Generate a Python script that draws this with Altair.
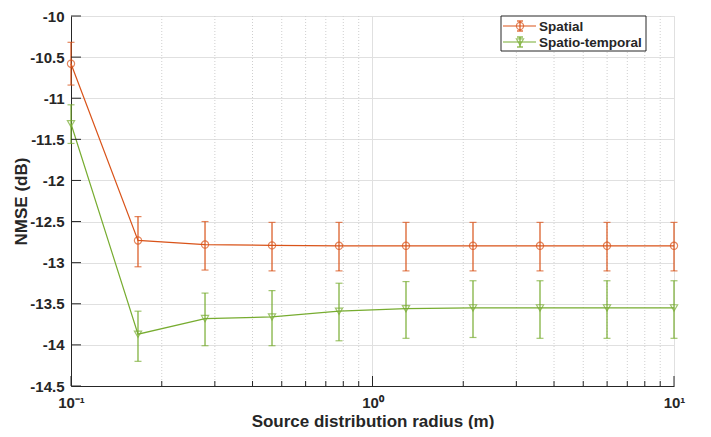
import altair as alt
import pandas as pd

# ---- data ----
radius = [0.1, 0.1668, 0.2783, 0.4642, 0.7743, 1.2915, 2.1544, 3.5938, 5.9948, 10.0]
series_names = ["Spatial", "Spatio-temporal"]
spatial_mean = [-10.58, -12.73, -12.78, -12.79, -12.795, -12.795, -12.795, -12.795, -12.795, -12.795]
spatial_lo = [-10.84, -13.05, -13.09, -13.10, -13.10, -13.10, -13.10, -13.10, -13.10, -13.10]
spatial_hi = [-10.32, -12.44, -12.50, -12.51, -12.51, -12.51, -12.51, -12.51, -12.51, -12.51]
st_mean = [-11.31, -13.87, -13.68, -13.66, -13.59, -13.56, -13.55, -13.55, -13.55, -13.55]
st_lo = [-11.55, -14.20, -14.01, -14.01, -13.95, -13.92, -13.91, -13.92, -13.92, -13.92]
st_hi = [-11.08, -13.59, -13.37, -13.34, -13.25, -13.23, -13.22, -13.22, -13.22, -13.22]
colors = ["#D95319", "#77AC30"]
shapes = ["circle", "triangle-down"]

x_major = [0.1, 1, 10]
x_minor = [0.2, 0.3, 0.4, 0.5, 0.6, 0.7, 0.8, 0.9, 2, 3, 4, 5, 6, 7, 8, 9]
y_ticks = [-14.5, -14, -13.5, -13, -12.5, -12, -11.5, -11, -10.5, -10]

W, H = 603, 370
FONT = "Liberation Sans"
DARK = "#262626"
MSIZE = 52

rows = []
for name, m, lo, hi in [("Spatial", spatial_mean, spatial_lo, spatial_hi),
                        ("Spatio-temporal", st_mean, st_lo, st_hi)]:
    for r, a, b, c in zip(radius, m, lo, hi):
        rows.append({"series": name, "radius": r, "nmse": a, "lo": b, "hi": c})
df = pd.DataFrame(rows)

xscale = alt.Scale(type="log", domain=[0.1, 10], nice=False)
yscale = alt.Scale(domain=[-14.5, -10], nice=False, zero=False)
cscale = alt.Scale(domain=series_names, range=colors)
sscale = alt.Scale(domain=series_names, range=shapes)

base = alt.Chart(df)

x_enc = alt.X("radius:Q", scale=xscale,
              axis=alt.Axis(values=x_major, ticks=False, grid=True,
                            gridColor="#e0e0e0", gridWidth=1,
                            domainColor=DARK, domainWidth=1,
                            labelExpr="datum.value < 0.5 ? '10⁻¹' : (datum.value < 5 ? '10⁰' : '10¹')",
                            labelFont=FONT, labelFontWeight="bold", labelFontSize=15,
                            labelColor=DARK, labelPadding=9, labelFlush=False,
                            title="Source distribution radius (m)", titleFont=FONT,
                            titleFontWeight="bold", titleFontSize=17, titleColor=DARK,
                            titlePadding=3))
y_enc = alt.Y("nmse:Q", scale=yscale,
              axis=alt.Axis(values=y_ticks, ticks=False, grid=True,
                            gridColor="#e0e0e0", gridWidth=1,
                            domainColor=DARK, domainWidth=1,
                            labelExpr="'' + datum.value",
                            labelFont=FONT, labelFontWeight="bold", labelFontSize=15,
                            labelColor=DARK, labelPadding=7, labelFlush=False,
                            title="NMSE (dB)", titleFont=FONT,
                            titleFontWeight="bold", titleFontSize=17, titleColor=DARK,
                            titleX=-41, titleY=H / 2, titleBaseline="bottom",
                            titleAngle=270))

minor_grid = alt.Chart(pd.DataFrame({"v": x_minor})).mark_rule(
    color="#cfcfcf", strokeDash=[1, 2], strokeWidth=1
).encode(x=alt.X("v:Q", scale=xscale), y=alt.value(0), y2=alt.value(H))

color_enc = alt.Color("series:N", scale=cscale, legend=None)

line = base.mark_line(strokeWidth=1.2).encode(x=x_enc, y=y_enc, color=color_enc)
bars = base.mark_rule(strokeWidth=1.2).encode(
    x="radius:Q", y="lo:Q", y2="hi:Q", color=color_enc)
cap_lo = base.mark_tick(orient="horizontal", size=7, thickness=1.2).encode(
    x="radius:Q", y="lo:Q", color=color_enc)
cap_hi = base.mark_tick(orient="horizontal", size=7, thickness=1.2).encode(
    x="radius:Q", y="hi:Q", color=color_enc)
pts = base.mark_point(filled=False, size=MSIZE, strokeWidth=1.2).encode(
    x="radius:Q", y="nmse:Q", color=color_enc,
    shape=alt.Shape("series:N", scale=sscale, legend=None))

# inward axis ticks
tick_x_major = alt.Chart(pd.DataFrame({"v": x_major})).mark_rule(color=DARK).encode(
    x=alt.X("v:Q", scale=xscale), y=alt.value(H), y2=alt.value(H - 10))
tick_x_minor = alt.Chart(pd.DataFrame({"v": x_minor})).mark_rule(color=DARK).encode(
    x=alt.X("v:Q", scale=xscale), y=alt.value(H), y2=alt.value(H - 5))
tick_y = alt.Chart(pd.DataFrame({"v": y_ticks})).mark_rule(color=DARK).encode(
    y=alt.Y("v:Q", scale=yscale), x=alt.value(0), x2=alt.value(10))

# legend box (drawn by hand, top right)
LX0, LX1, LY0, LY1 = 430, 575, 0, 35
legend_layers = [
    alt.Chart(pd.DataFrame({"a": [0]})).mark_rect(
        fill="white", stroke=DARK, strokeWidth=1).encode(
        x=alt.value(LX0), x2=alt.value(LX1), y=alt.value(LY0), y2=alt.value(LY1))
]
for i, name in enumerate(series_names):
    cy = 10 + 16 * i
    ld = pd.DataFrame({"series": [name]})
    lc = alt.Chart(ld)
    legend_layers += [
        lc.mark_rule(strokeWidth=1.2).encode(
            x=alt.value(432), x2=alt.value(465), y=alt.value(cy), color=color_enc),
        lc.mark_rule(strokeWidth=1.2).encode(
            x=alt.value(449), y=alt.value(cy - 5), y2=alt.value(cy + 5), color=color_enc),
        lc.mark_rule(strokeWidth=1.2).encode(
            x=alt.value(446), x2=alt.value(452), y=alt.value(cy - 5), color=color_enc),
        lc.mark_rule(strokeWidth=1.2).encode(
            x=alt.value(446), x2=alt.value(452), y=alt.value(cy + 5), color=color_enc),
        lc.mark_point(filled=False, size=MSIZE, strokeWidth=1.2).encode(
            x=alt.value(449), y=alt.value(cy), color=color_enc,
            shape=alt.Shape("series:N", scale=sscale, legend=None)),
        lc.mark_text(align="left", baseline="middle", font=FONT, fontWeight="bold",
                     fontSize=13.5, color=DARK).encode(
            x=alt.value(468), y=alt.value(cy + 1), text="series:N"),
    ]

chart = alt.layer(
    minor_grid, line, bars, cap_lo, cap_hi, pts,
    tick_x_major, tick_x_minor, tick_y, *legend_layers
).properties(
    width=W, height=H,
    autosize=alt.AutoSizeParams(type="none"),
    padding={"left": 63, "top": 8, "right": 29, "bottom": 43},
).configure_view(stroke=None).configure(background="white")

chart.save("out.html", embed_options={"renderer": "svg", "actions": False})
